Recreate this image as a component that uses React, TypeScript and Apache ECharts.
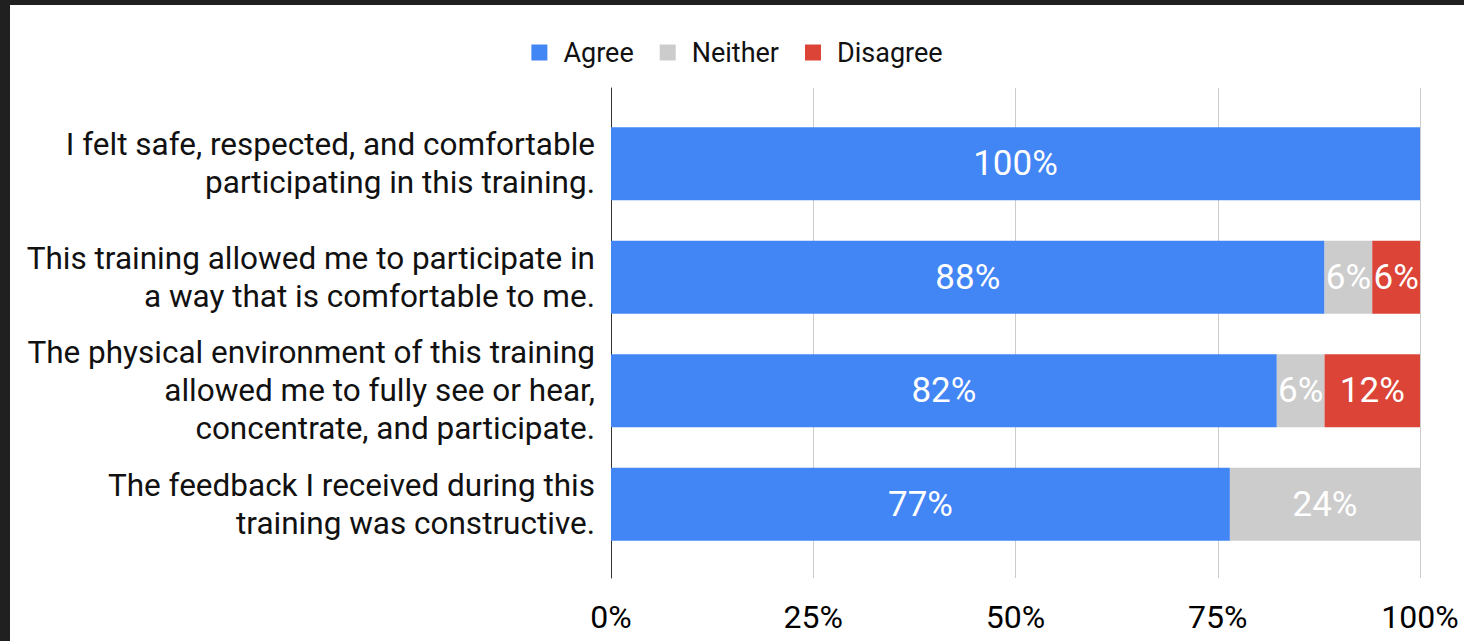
import React, { useEffect, useRef } from "react";
import * as echarts from "echarts";

const categories = [
  "I felt safe, respected, and comfortable\nparticipating in this training.",
  "This training allowed me to participate in\na way that is comfortable to me.",
  "The physical environment of this training\nallowed me to fully see or hear,\nconcentrate, and participate.",
  "The feedback I received during this\ntraining was constructive.",
];
const agree = [100, 88.2, 82.3, 76.5];
const neither = [0, 5.9, 5.9, 23.5];
const disagree = [0, 5.9, 11.8, 0];
const xTicks = [0, 25, 50, 75, 100];

const FONT = "Roboto, 'Noto Sans', sans-serif";

export default function App() {
  const ref = useRef<HTMLDivElement>(null);
  useEffect(() => {
    document.body.style.margin = "0";
    if (!ref.current) return;
    const chart = echarts.init(ref.current, undefined, { renderer: "svg" });
    const labelCfg = {
      show: true,
      position: "inside",
      color: "#ffffff",
      fontSize: 35,
      fontFamily: FONT,
      formatter: (p: any) => (p.value > 0 ? Math.round(p.value) + "%" : ""),
    };
    const mk = (name: string, data: number[], color: string) => ({
      name,
      type: "bar",
      stack: "total",
      xAxisIndex: 1,
      yAxisIndex: 1,
      data,
      barWidth: 73,
      itemStyle: { color },
      label: labelCfg,
      emphasis: { disabled: true },
    });
    chart.setOption({
      animation: false,
      backgroundColor: "#ffffff",
      textStyle: { fontFamily: FONT },
      legend: {
        top: 29,
        left: "center",
        itemWidth: 16,
        itemHeight: 16,
        itemGap: 26,
        icon: "rect",
        textStyle: { fontSize: 27, color: "#111", fontFamily: FONT, padding: [0, 0, 0, 11] },
        data: ["Agree", "Neither", "Disagree"],
      },
      grid: [
        { left: 601, right: 44, top: 83, bottom: 63 },
        { left: 601, right: 44, top: 102, bottom: 80 },
      ],
      xAxis: [
        {
          gridIndex: 0,
          type: "value",
          min: xTicks[0],
          max: xTicks[xTicks.length - 1],
          interval: 25,
          axisLine: { show: false },
          axisTick: { show: false },
          splitLine: { show: true, lineStyle: { color: "#cccccc", width: 1 } },
          axisLabel: {
            fontSize: 32,
            color: "#000",
            fontFamily: FONT,
            margin: 23,
            formatter: (v: number) => v + "%",
          },
        },
        { gridIndex: 1, type: "value", min: 0, max: 100, show: false },
      ],
      yAxis: [
        {
          gridIndex: 0,
          type: "value",
          min: 0,
          max: 1,
          axisLine: { show: true, lineStyle: { color: "#333333", width: 1 } },
          axisTick: { show: false },
          axisLabel: { show: false },
          splitLine: { show: false },
        },
        {
          gridIndex: 1,
          type: "category",
          inverse: true,
          data: categories,
          axisLine: { show: false },
          axisTick: { show: false },
          axisLabel: {
            fontSize: 31.5,
            lineHeight: 38,
            color: "#111",
            fontFamily: FONT,
            margin: 16,
            align: "right",
          },
        },
      ],
      series: [
        mk("Agree", agree, "#4285F4"),
        mk("Neither", neither, "#CCCCCC"),
        mk("Disagree", disagree, "#DB4437"),
      ],
    });
    return () => chart.dispose();
  }, []);
  return (
    <div
      style={{
        position: "fixed",
        left: 0,
        top: 0,
        width: 1464,
        height: 641,
        background: "#202020",
        overflow: "hidden",
      }}
    >
      <div
        ref={ref}
        style={{ position: "absolute", left: 10, top: 5, width: 1454, height: 636 }}
      />
    </div>
  );
}
